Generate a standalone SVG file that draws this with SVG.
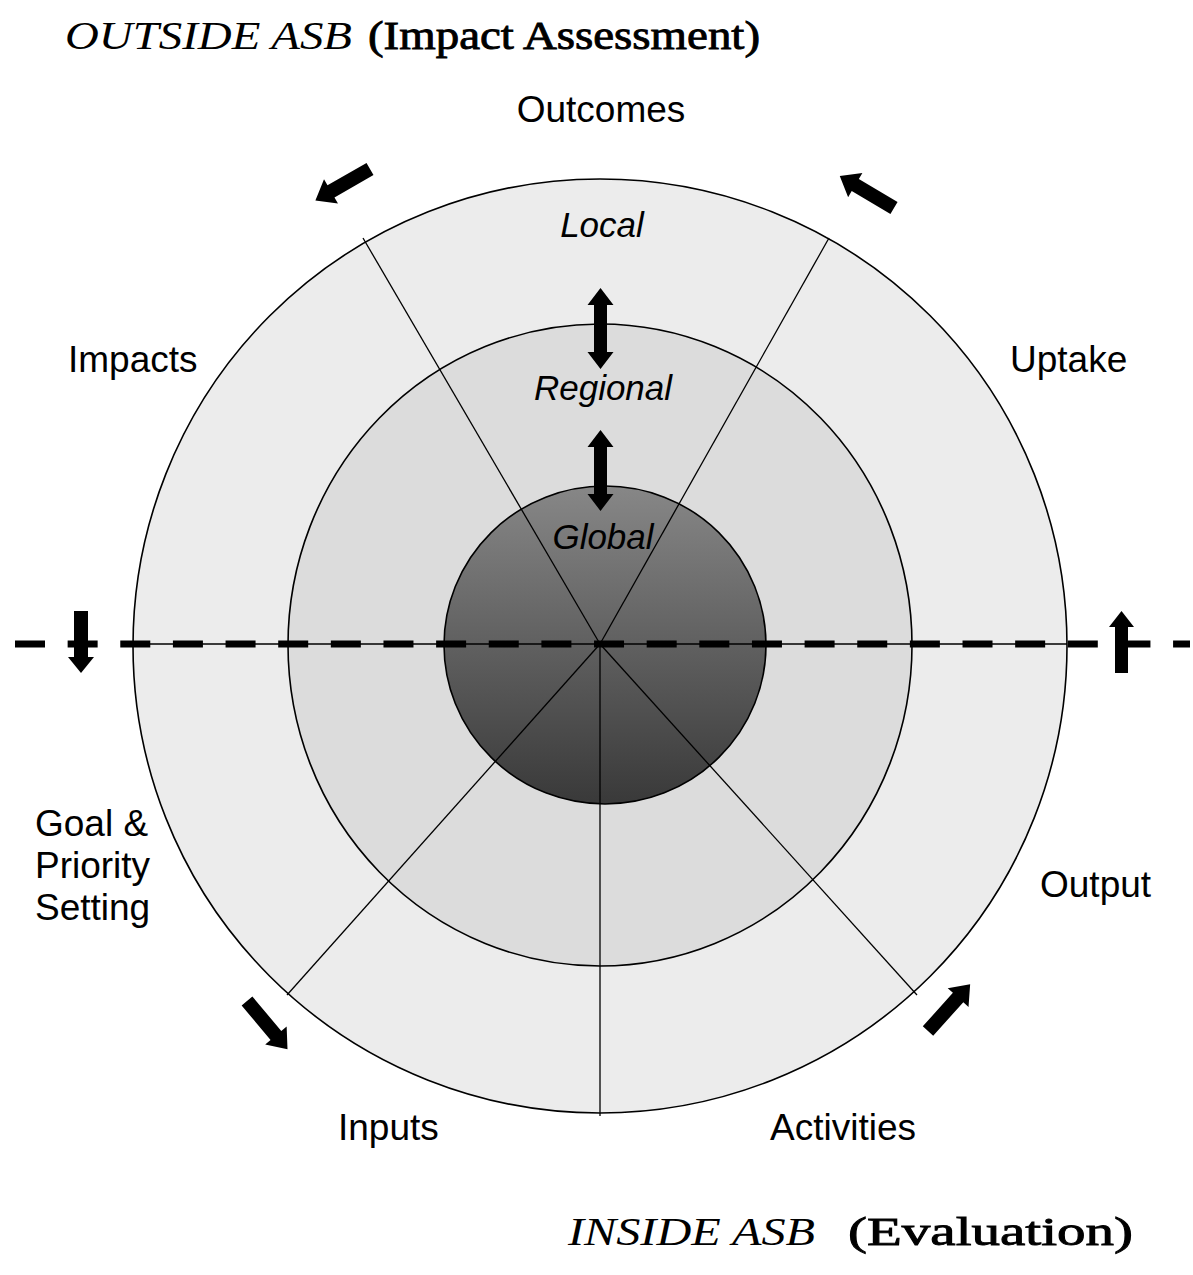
<svg xmlns="http://www.w3.org/2000/svg" xmlns:xlink="http://www.w3.org/1999/xlink" width="1193" height="1275" viewBox="0 0 1193 1275">
<style>
.lbl{font-family:"Liberation Sans",Arial,sans-serif;font-size:37px;fill:#000}
.ilbl{font-family:"Liberation Sans",Arial,sans-serif;font-size:35px;font-style:italic;fill:#000}
.ttl{font-family:"Liberation Serif","Times New Roman",serif;font-size:41px;fill:#000}
.ttb{stroke:#000;stroke-width:0.9}
.ring{stroke:#000;stroke-width:1.6}
.spoke{stroke:#000;stroke-width:1.3;fill:none}
.blk{fill:#000;stroke:none}
</style>
<defs>
<linearGradient id="core" x1="0" y1="0" x2="0" y2="1">
<stop offset="0" stop-color="#878787"/>
<stop offset="1" stop-color="#393939"/>
</linearGradient>
<path id="bar" d="M0,-7 H45 V-14 L63,0 L45,14 V7 H0 Z"/>
<path id="dbl" d="M0,0 L13,17 H6.5 V64 H13 L0,81 L-13,64 H-6.5 V17 H-13 Z"/>
</defs>
<rect width="1193" height="1275" fill="#fff"/>

<g id="ring-local"><circle class="ring" cx="600" cy="646" r="467" fill="#ececec"/></g>
<g id="ring-regional"><ellipse class="ring" cx="600" cy="645" rx="312" ry="321" fill="#dcdcdc"/></g>
<g id="ring-global"><ellipse class="ring" cx="605" cy="645" rx="161" ry="159" fill="url(#core)"/></g>

<g id="connectors">
<line class="spoke" x1="600" y1="644" x2="363" y2="238"/>
<line class="spoke" x1="600" y1="644" x2="829" y2="238"/>
<line class="spoke" x1="600" y1="644" x2="287" y2="995"/>
<line class="spoke" x1="600" y1="644" x2="600" y2="1116"/>
<line class="spoke" x1="600" y1="644" x2="917" y2="995"/>
<line class="spoke" x1="134" y1="644" x2="1067" y2="644"/>
<line x1="15" y1="644" x2="1190" y2="644" stroke="#000" stroke-width="7" stroke-dasharray="30 22.64"/>
<use href="#bar" class="blk" transform="translate(370,169) rotate(150.1)"/>
<use href="#bar" class="blk" transform="translate(894,208) rotate(210.6)"/>
<use href="#bar" class="blk" transform="translate(247,1001) rotate(50)"/>
<use href="#bar" class="blk" transform="translate(928,1031) rotate(-48)"/>
<use href="#dbl" class="blk" transform="translate(600.5,288)"/>
<use href="#dbl" class="blk" transform="translate(600.5,430)"/>
<path class="blk" d="M74,611 H88 V657 H94 L81,673 L68,657 H74 Z"/>
<path class="blk" d="M1115,673 H1128 V627 H1134 L1121.5,611 L1109,627 H1115 Z"/>
</g>

<g id="title-outside">
<text class="ttl" x="65" y="49" font-style="italic" textLength="287" lengthAdjust="spacingAndGlyphs">OUTSIDE ASB</text>
<text class="ttl ttb" x="368" y="49" textLength="392" lengthAdjust="spacingAndGlyphs">(Impact Assessment)</text>
</g>
<g id="title-inside">
<text class="ttl" x="568" y="1245" font-style="italic" textLength="247" lengthAdjust="spacingAndGlyphs">INSIDE ASB</text>
<text class="ttl ttb" x="848" y="1245" textLength="285" lengthAdjust="spacingAndGlyphs">(Evaluation)</text>
</g>

<g id="label-outcomes"><text class="lbl" x="601" y="122" text-anchor="middle">Outcomes</text></g>
<g id="label-impacts"><text class="lbl" x="68" y="372">Impacts</text></g>
<g id="label-uptake"><text class="lbl" x="1010" y="372">Uptake</text></g>
<g id="label-goal"><text class="lbl" x="35" y="836">Goal &amp;</text><text class="lbl" x="35" y="878">Priority</text><text class="lbl" x="35" y="920">Setting</text></g>
<g id="label-output"><text class="lbl" x="1040" y="897">Output</text></g>
<g id="label-inputs"><text class="lbl" x="338" y="1140">Inputs</text></g>
<g id="label-activities"><text class="lbl" x="770" y="1140">Activities</text></g>
<g id="label-local"><text class="ilbl" x="602" y="237" text-anchor="middle">Local</text></g>
<g id="label-regional"><text class="ilbl" x="603" y="400" text-anchor="middle">Regional</text></g>
<g id="label-global"><text class="ilbl" x="603" y="549" text-anchor="middle">Global</text></g>
</svg>
